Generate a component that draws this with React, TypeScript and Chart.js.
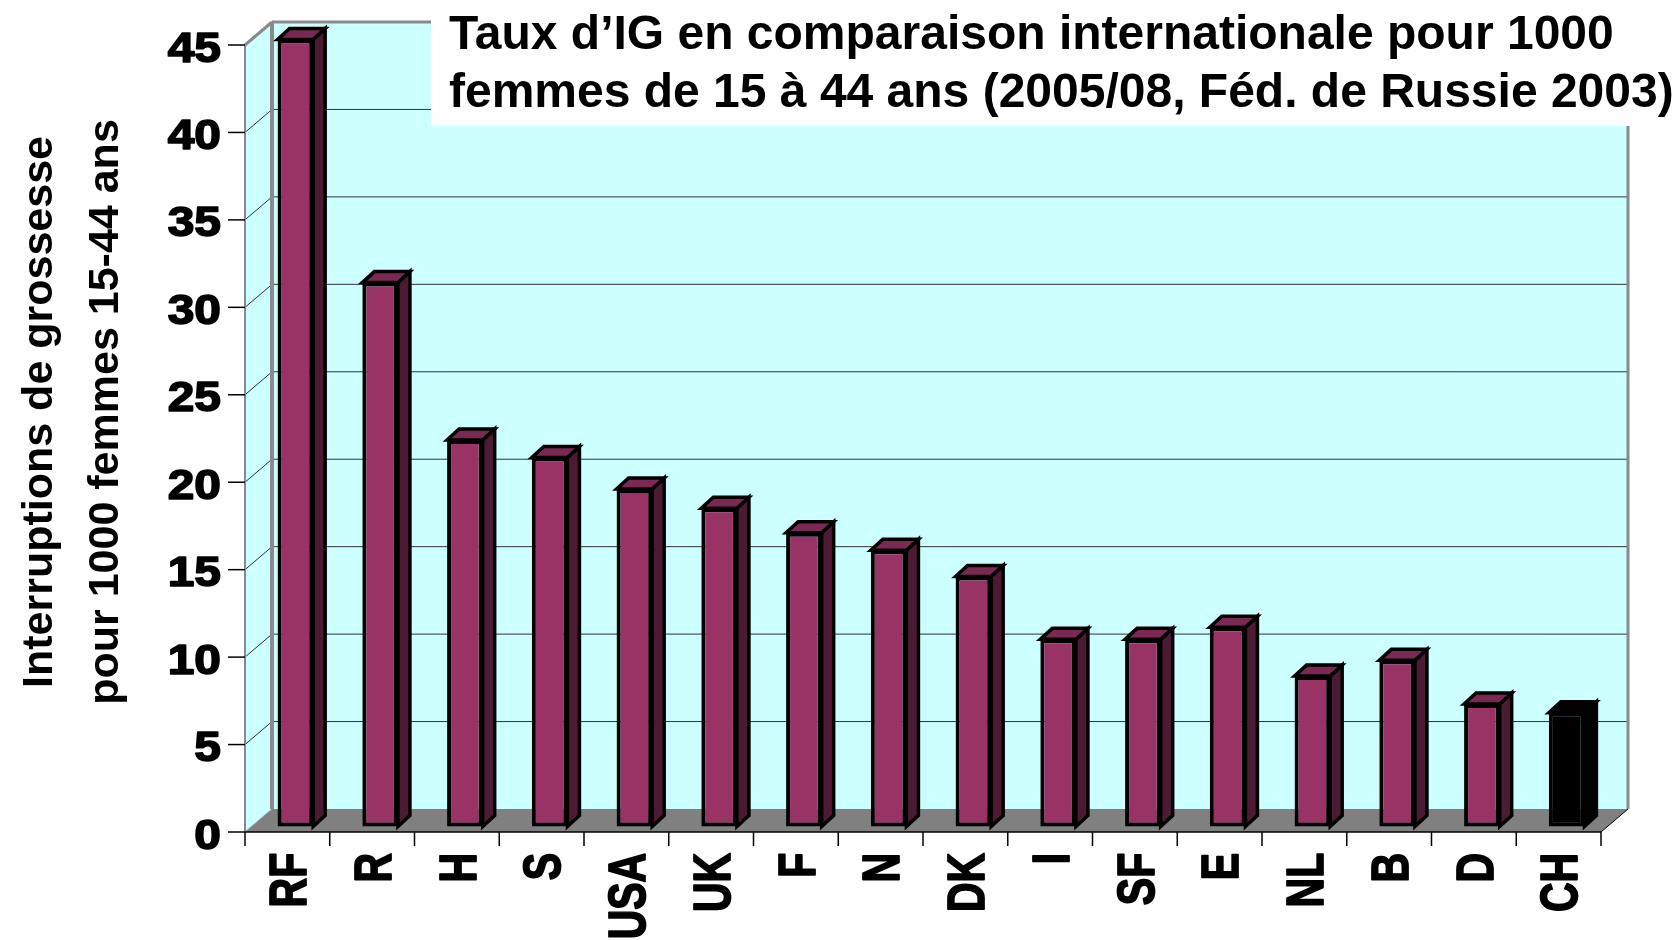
import React, { useEffect, useRef } from "react";
import { Chart, registerables } from "chart.js";

Chart.register(...registerables);

// ---------- data ----------
const categories = ["RF", "R", "H", "S", "USA", "UK", "F", "N", "DK", "I", "SF", "E", "NL", "B", "D", "CH"];
const rates = [45.0, 31.1, 22.1, 21.1, 19.3, 18.2, 16.8, 15.8, 14.3, 10.7, 10.7, 11.4, 8.6, 9.5, 7.0, 6.5];
const yTicks = [0, 5, 10, 15, 20, 25, 30, 35, 40, 45];
const highlighted = ["CH"];
const titleLines = [
  "Taux d’IG en comparaison internationale pour 1000",
  "femmes de 15 à 44 ans (2005/08, Féd. de Russie 2003)",
];
const yTitleLines = ["Interruptions de grossesse", "pour 1000 femmes 15-44 ans"];

// ---------- style / geometry ----------
const W = 1677;
const H = 940;
const FONT = '"Liberation Sans", Arial, Helvetica, sans-serif';
const PAD = { left: 245, right: 76, top: 45, bottom: 108 };
const GEO = {
  wallDx: 27, wallDy: -23,
  barDx: 8, barDy: -5.5,
  depthDx: 12, depthDy: -11,
  tickLen: 17, catTickLen: 14,
  tickLabelRight: 221, tickFont: 42, tickStretch: 1.14,
  xLabelTop: 852, xFont: 41, xStretch: 1.27,
  yTitleX: [41, 107], yTitleY: 412, yTitleFont: 43,
  titleBox: { x: 431, y: 0, h: 126 }, titleX: 449, titleBase: [49, 107], titleFont: 48,
};
const COLORS = {
  wall: "#CCFFFF",
  floor: "#808080",
  frame: "#8a8a8a",
  grid: "#333333",
  bar: "#993366",
  barTop: "#7a2952",
  barSide: "#4d1a33",
  hi: "#000000",
};

function poly(ctx: CanvasRenderingContext2D, pts: number[][]) {
  ctx.beginPath();
  ctx.moveTo(pts[0][0], pts[0][1]);
  for (let i = 1; i < pts.length; i++) ctx.lineTo(pts[i][0], pts[i][1]);
  ctx.closePath();
}
function line(ctx: CanvasRenderingContext2D, x1: number, y1: number, x2: number, y2: number) {
  ctx.beginPath();
  ctx.moveTo(x1, y1);
  ctx.lineTo(x2, y2);
  ctx.stroke();
}
function heavyText(ctx: CanvasRenderingContext2D, t: string, x: number, y: number, w: number) {
  ctx.fillText(t, x, y);
  ctx.lineWidth = w;
  ctx.strokeText(t, x, y);
}

const depth3d = {
  id: "depth3d",
  beforeDatasetsDraw(chart: any) {
    const { ctx, chartArea: a, scales } = chart;
    const ys = scales.y;
    const L = a.left, R = a.right, T = a.top, B = a.bottom;
    const dx = GEO.wallDx, dy = GEO.wallDy;
    ctx.save();
    // back wall
    ctx.fillStyle = COLORS.wall;
    ctx.fillRect(L + dx, T + dy, R - L, B - T);
    // side wall
    poly(ctx, [[L, T], [L + dx, T + dy], [L + dx, B + dy], [L, B]]);
    ctx.fill();
    // floor
    ctx.fillStyle = COLORS.floor;
    poly(ctx, [[L, B], [R, B], [R + dx, B + dy], [L + dx, B + dy]]);
    ctx.fill();
    // gridlines on back wall + diagonals on side wall
    ctx.strokeStyle = COLORS.grid;
    ctx.lineWidth = 1;
    const maxV = yTicks[yTicks.length - 1];
    for (const v of yTicks) {
      const py = ys.getPixelForValue(v);
      if (v > 0 && v < maxV) line(ctx, L + dx, py + dy, R + dx, py + dy);
      if (v > 0) line(ctx, L, py, L + dx, py + dy);
    }
    // gray frame
    ctx.strokeStyle = COLORS.frame;
    ctx.lineWidth = 2;
    line(ctx, L, T, L, B);
    ctx.lineWidth = 3;
    line(ctx, L, T, L + dx, T + dy);
    line(ctx, L + dx, T + dy, R + dx, T + dy);
    line(ctx, R + dx, T + dy, R + dx, B + dy);
    ctx.lineWidth = 4;
    line(ctx, L + dx, T + dy, L + dx, B + dy);
    // floor edges
    ctx.strokeStyle = "#000";
    ctx.lineWidth = 1;
    line(ctx, R, B, R + dx, B + dy);
    ctx.strokeStyle = "#9a9a9a";
    line(ctx, L, B, L + dx, B + dy);
    // front axes
    ctx.strokeStyle = "#000";
    ctx.lineWidth = 1.5;
    line(ctx, L, B, R, B);
    for (const v of yTicks) {
      const py = ys.getPixelForValue(v);
      line(ctx, L - GEO.tickLen, py, L, py);
    }
    const xs = scales.x;
    const n = categories.length;
    const cw = (R - L) / n;
    for (let i = 0; i <= n; i++) {
      const px = i < n ? xs.getPixelForValue(i) - cw / 2 : xs.getPixelForValue(n - 1) + cw / 2;
      line(ctx, px, B, px, B + GEO.catTickLen);
    }
    ctx.restore();
    ctx.save();
    ctx.translate(GEO.barDx, GEO.barDy);
  },
  afterDatasetsDraw(chart: any) {
    const { ctx } = chart;
    ctx.restore();
    const meta = chart.getDatasetMeta(0);
    ctx.save();
    ctx.lineWidth = 3.5;
    ctx.lineJoin = "miter";
    ctx.strokeStyle = "#000";
    meta.data.forEach((el: any, i: number) => {
      const p = el.getProps(["x", "y", "width", "base"], true);
      const x0 = p.x - p.width / 2 + GEO.barDx;
      const x1 = p.x + p.width / 2 + GEO.barDx;
      const yt = Math.min(p.y, p.base) + GEO.barDy;
      const yb = Math.max(p.y, p.base) + GEO.barDy;
      const ddx = GEO.depthDx, ddy = GEO.depthDy;
      const hi = highlighted.includes(categories[i]);
      ctx.fillStyle = hi ? COLORS.hi : COLORS.barSide;
      poly(ctx, [[x1, yt], [x1 + ddx, yt + ddy], [x1 + ddx, yb + ddy], [x1, yb]]);
      ctx.fill();
      ctx.stroke();
      ctx.fillStyle = hi ? COLORS.hi : COLORS.barTop;
      poly(ctx, [[x0, yt], [x1, yt], [x1 + ddx, yt + ddy], [x0 + ddx, yt + ddy]]);
      ctx.fill();
      ctx.stroke();
    });
    ctx.restore();
  },
  afterDraw(chart: any) {
    const { ctx, scales } = chart;
    ctx.save();
    ctx.fillStyle = "#000";
    ctx.strokeStyle = "#000";
    ctx.lineJoin = "round";
    // y tick labels
    ctx.font = `bold ${GEO.tickFont}px ${FONT}`;
    ctx.textAlign = "right";
    ctx.textBaseline = "alphabetic";
    for (const v of yTicks) {
      const py = scales.y.getPixelForValue(v);
      ctx.save();
      ctx.translate(GEO.tickLabelRight, py);
      ctx.scale(GEO.tickStretch, 1);
      heavyText(ctx, String(v), 0, 0.358 * GEO.tickFont + 1.5, 1.6);
      ctx.restore();
    }
    // x labels (rotated)
    ctx.font = `bold ${GEO.xFont}px ${FONT}`;
    categories.forEach((c, i) => {
      const px = scales.x.getPixelForValue(i);
      ctx.save();
      ctx.translate(px, GEO.xLabelTop);
      ctx.rotate(-Math.PI / 2);
      ctx.scale(1, GEO.xStretch);
      ctx.textAlign = "right";
      heavyText(ctx, c, -0.8, 0.358 * GEO.xFont, 1.4);
      ctx.restore();
    });
    // y axis title
    ctx.font = `bold ${GEO.yTitleFont}px ${FONT}`;
    yTitleLines.forEach((t, i) => {
      ctx.save();
      ctx.translate(GEO.yTitleX[i], GEO.yTitleY);
      ctx.rotate(-Math.PI / 2);
      ctx.textAlign = "center";
      ctx.fillText(t, 0, 0.253 * GEO.yTitleFont);
      ctx.restore();
    });
    // title box
    const tb = GEO.titleBox;
    ctx.fillStyle = "#fff";
    ctx.fillRect(tb.x, tb.y, W - tb.x, tb.h);
    ctx.fillStyle = "#000";
    ctx.font = `bold ${GEO.titleFont}px ${FONT}`;
    ctx.textAlign = "left";
    titleLines.forEach((t, i) => ctx.fillText(t, GEO.titleX, GEO.titleBase[i]));
    ctx.restore();
  },
};

export default function App() {
  const ref = useRef<HTMLCanvasElement>(null);
  useEffect(() => {
    const canvas = ref.current;
    if (!canvas) return;
    const chart = new Chart(canvas, {
      type: "bar",
      data: {
        labels: categories,
        datasets: [
          {
            data: rates,
            backgroundColor: categories.map((c) => (highlighted.includes(c) ? COLORS.hi : COLORS.bar)),
            borderColor: "#000",
            borderWidth: 4,
            borderSkipped: false,
            barPercentage: 0.42,
            categoryPercentage: 1,
            clip: false as any,
          },
        ],
      },
      options: {
        animation: false,
        responsive: false,
        devicePixelRatio: 1,
        layout: { padding: PAD },
        plugins: { legend: { display: false }, tooltip: { enabled: false }, title: { display: false } },
        scales: {
          x: { display: false, offset: true },
          y: { display: false, min: 0, max: yTicks[yTicks.length - 1] },
        },
      },
      plugins: [depth3d],
    });
    return () => chart.destroy();
  }, []);
  return (
    <div style={{ position: "fixed", left: 0, top: 0, width: W, height: H, background: "#fff" }}>
      <canvas ref={ref} width={W} height={H} style={{ width: W, height: H, display: "block" }} />
    </div>
  );
}
